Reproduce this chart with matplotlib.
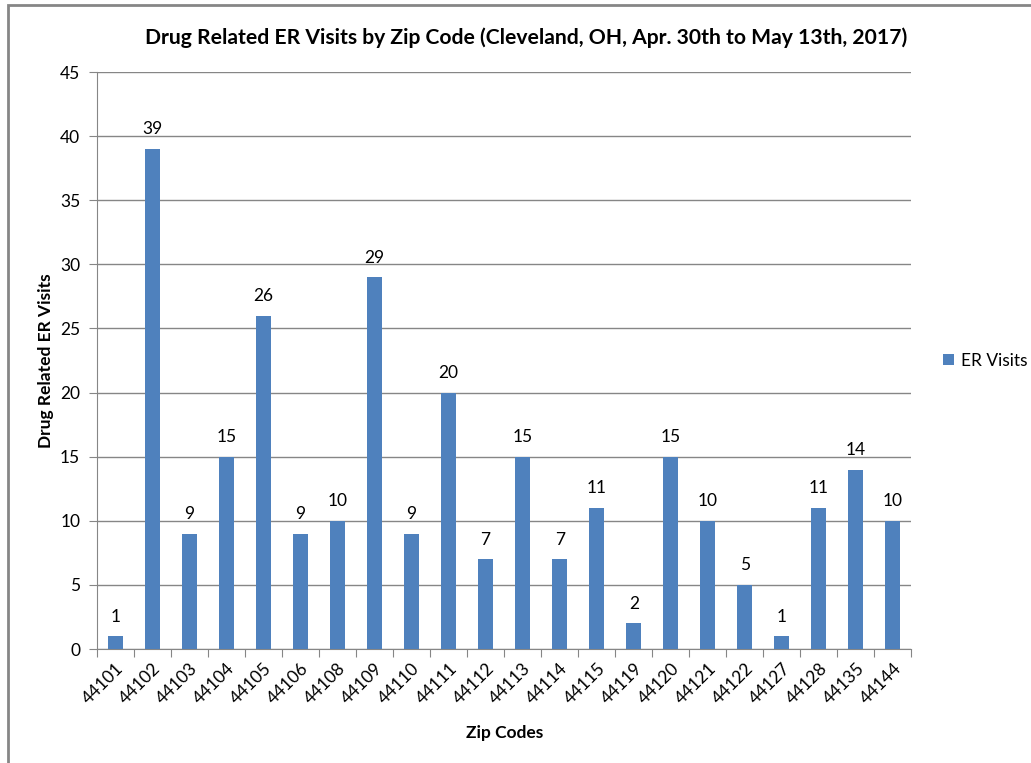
import matplotlib.pyplot as plt
from matplotlib.patches import Rectangle

zip_codes = ['44101', '44102', '44103', '44104', '44105', '44106', '44108', '44109',
             '44110', '44111', '44112', '44113', '44114', '44115', '44119', '44120',
             '44121', '44122', '44127', '44128', '44135', '44144']
er_visits = [1, 39, 9, 15, 26, 9, 10, 29, 9, 20, 7, 15, 7, 11, 2, 15, 10, 5, 1, 11, 14, 10]
y_ticks = [0, 5, 10, 15, 20, 25, 30, 35, 40, 45]

plt.rcParams['font.family'] = ['Lato', 'DejaVu Sans']

fig = plt.figure(figsize=(10.31, 7.63), dpi=100)
ax = fig.add_axes([0.094, 0.1494, 0.79, 0.7562])

x = list(range(len(zip_codes)))
bars = ax.bar(x, er_visits, width=0.4, color='#4F81BD', label='ER Visits', zorder=3)
for xi, v in zip(x, er_visits):
    ax.text(xi, v + 0.9, str(v), ha='center', va='bottom', fontsize=12.5, color='#000000')

ax.set_xlim(-0.5, len(zip_codes) - 0.5)
ax.set_ylim(0, 45)
ax.set_yticks(y_ticks)
ax.tick_params(axis='y', labelsize=12.5, length=6, color='#868686', pad=6)
ax.yaxis.grid(True, color='#868686', linewidth=1, zorder=0)

# category boundary ticks, labels centred on bars
ax.set_xticks([i - 0.5 for i in range(len(zip_codes) + 1)])
ax.set_xticklabels([])
ax.set_xticks(x, minor=True)
ax.set_xticklabels(zip_codes, minor=True, rotation=45, ha='right', rotation_mode='anchor', fontsize=12.5)
ax.tick_params(axis='x', which='major', length=6, color='#868686')
ax.tick_params(axis='x', which='minor', length=0, pad=8)

for s in ['top', 'right']:
    ax.spines[s].set_visible(False)
for s in ['left', 'bottom']:
    ax.spines[s].set_color('#868686')

ax.set_xlabel('Zip Codes', fontsize=12.5, fontweight='bold', labelpad=13)
ax.set_ylabel('Drug Related ER Visits', fontsize=12.5, fontweight='bold', labelpad=4)
fig.text(0.51, 0.951, 'Drug Related ER Visits by Zip Code (Cleveland, OH, Apr. 30th to May 13th, 2017)',
         ha='center', va='center', fontsize=15.2, fontweight='bold')

ax.legend(loc='center left', bbox_to_anchor=(1.02, 0.5), frameon=False, fontsize=12.5,
          handlelength=0.6, handleheight=0.6, handletextpad=0.4)

fig.patches.append(Rectangle((0.0078, -0.1), 1.2, 1.0934, transform=fig.transFigure,
                             fill=False, edgecolor='#868686', linewidth=2))

fig.savefig('out.png', dpi=100)
